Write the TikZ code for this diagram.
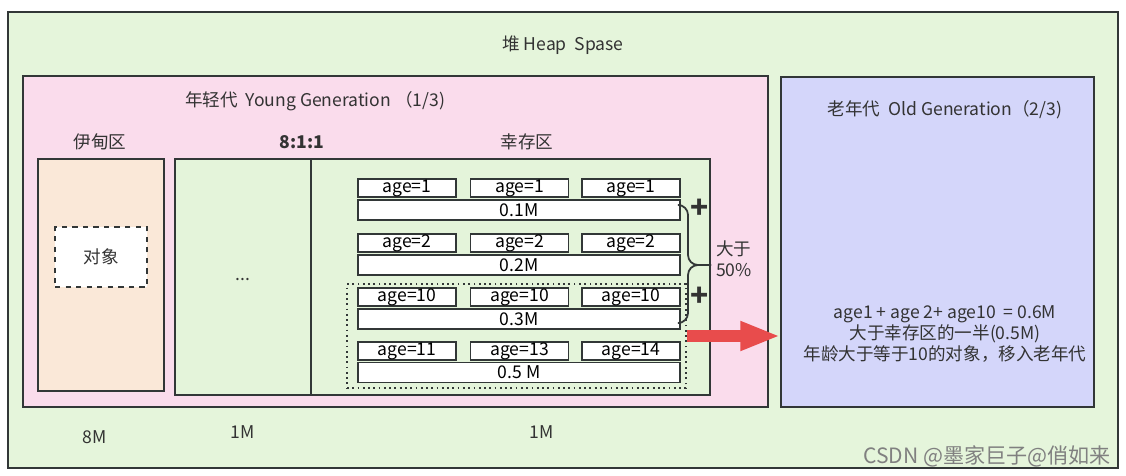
\documentclass[tikz,border=0pt]{standalone}
\usepackage{fontspec}
\setmainfont{Noto Sans CJK SC}
\usepackage{tikz}
\usetikzlibrary{shapes,arrows.meta}

\definecolor{heapgreen}{RGB}{229,245,219}
\definecolor{youngpink}{RGB}{250,220,236}
\definecolor{oldblue}{RGB}{212,214,250}
\definecolor{edenpeach}{RGB}{250,232,216}
\definecolor{survgreen}{RGB}{228,244,218}
\definecolor{linegray}{RGB}{50,55,55}
\definecolor{textgray}{RGB}{51,51,51}
\definecolor{arrowred}{RGB}{232,76,76}

\tikzset{
    area/.style={rectangle,draw=linegray,line width=0.8pt,inner sep=0},
    agebox/.style={rectangle,draw=linegray,fill=white,line width=0.8pt,inner sep=0,
        minimum width=1.96cm,minimum height=0.36cm},
    sizebar/.style={rectangle,draw=linegray,fill=white,line width=0.8pt,inner sep=0,
        minimum width=6.44cm,minimum height=0.4cm},
    plain/.style={text=textgray,inner sep=1pt}
}

\begin{document}
\begin{tikzpicture}[x=0.02cm,y=-0.02cm,font=\fontsize{10}{12}\selectfont]
        \useasboundingbox (0,0) rectangle (1126,476);
        % 堆空间
        \node[area,fill=heapgreen,minimum width=22.2cm,minimum height=9.12cm] (heap) at (563,240) {};
        \node[plain] (heaplabel) at (563,45) {堆 Heap~~Spase};

        % 年轻代与老年代
        \node[area,fill=youngpink,minimum width=14.9cm,minimum height=6.62cm] (young) at (395.5,241.5) {};
        \node[plain] (younglabel) at (315,101) {年轻代~~Young Generation （1/3)};
        \node[area,fill=oldblue,minimum width=6.26cm,minimum height=6.6cm] (old) at (937.5,242) {};
        \node[plain] (oldlabel) at (945,110) {老年代~~Old Generation（2/3)};

        % 伊甸区
        \node[plain] (edenlabel) at (100,142) {伊甸区};
        \node[area,fill=edenpeach,minimum width=2.52cm,minimum height=4.64cm] (eden) at (101,275) {};
        \node[rectangle,draw=linegray,fill=white,line width=0.8pt,dashed,
            minimum width=1.84cm,minimum height=1.2cm,text=textgray] (obj) at (101,257) {对象};

        % 幸存区
        \node[plain] (ratio) at (302,142) {\textbf{8:1:1}};
        \node[plain] (survlabel) at (527,142) {幸存区};
        \node[area,fill=survgreen,minimum width=10.7cm,minimum height=4.72cm] (surv) at (442.5,277) {};
        \coordinate (divtop) at (311,159);
        \coordinate (divbot) at (311,395);
        \draw[linegray,line width=0.8pt] (divtop) -- (divbot);
        \node[plain] (dots3) at (243,280) {...};

        % 对象年龄与大小
        \node[agebox] (a11) at (407,188) {age=1};
        \node[agebox] (a12) at (519.5,188) {age=1};
        \node[agebox] (a13) at (631,188) {age=1};
        \node[sizebar] (bar1) at (519,210) {0.1M};
        \node[agebox] (a21) at (407,243) {age=2};
        \node[agebox] (a22) at (519.5,243) {age=2};
        \node[agebox] (a23) at (631,243) {age=2};
        \node[sizebar] (bar2) at (519,265) {0.2M};
        \node[rectangle,draw=linegray,line width=1pt,dotted,minimum width=6.78cm,
            minimum height=2.08cm] (dots) at (516.5,336) {};
        \node[agebox] (a31) at (407,297) {age=10};
        \node[agebox] (a32) at (519.5,297) {age=10};
        \node[agebox] (a33) at (631,297) {age=10};
        \node[sizebar] (bar3) at (519,319) {0.3M};
        \node[agebox] (a41) at (407,351) {age=11};
        \node[agebox] (a42) at (519.5,351) {age=13};
        \node[agebox] (a43) at (631,351) {age=14};
        \node[sizebar] (bar4) at (519,372.5) {0.5 M};

        % 累加说明
        \coordinate (brtop) at (681,205);
        \coordinate (brbot) at (681,323);
        \coordinate (brmid) at (688,265);
        \coordinate (brtip) at (711,265);
        \draw[linegray,line width=1pt,rounded corners=0.2cm] (brtop) -| (brmid) -- (brtip);
        \draw[linegray,line width=1pt,rounded corners=0.2cm] (brbot) -| (brmid) -- (brtip);
        \node[plain,font=\fontsize{17}{17}\selectfont\bfseries] (plus1) at (700,209) {+};
        \node[plain,font=\fontsize{17}{17}\selectfont\bfseries] (plus2) at (700,297) {+};
        \node[plain,align=left,anchor=west] (half) at (714,259) {大于\\50\%};

        % 移入老年代
        \draw[arrowred,line width=0.24cm,-{Triangle[length=0.8cm,width=0.54cm]}]
            (dots.east) -- (old.west |- dots.east);
        \node[plain,align=center] (rule) at (945,334) {age1 + age 2+ age10~~= 0.6M\\大于幸存区的一半(0.5M)\\年龄大于等于10的对象，移入老年代};

        % 大小
        \node[plain] (size1) at (95,437) {8M};
        \node[plain] (size2) at (243,432) {1M};
        \node[plain] (size3) at (542,432) {1M};
        \node[text=gray,anchor=east,inner sep=0,font=\fontsize{12}{14}\selectfont] (mark) at (1111,456) {CSDN @墨家巨子@俏如来};
    \end{tikzpicture}
\end{document}
